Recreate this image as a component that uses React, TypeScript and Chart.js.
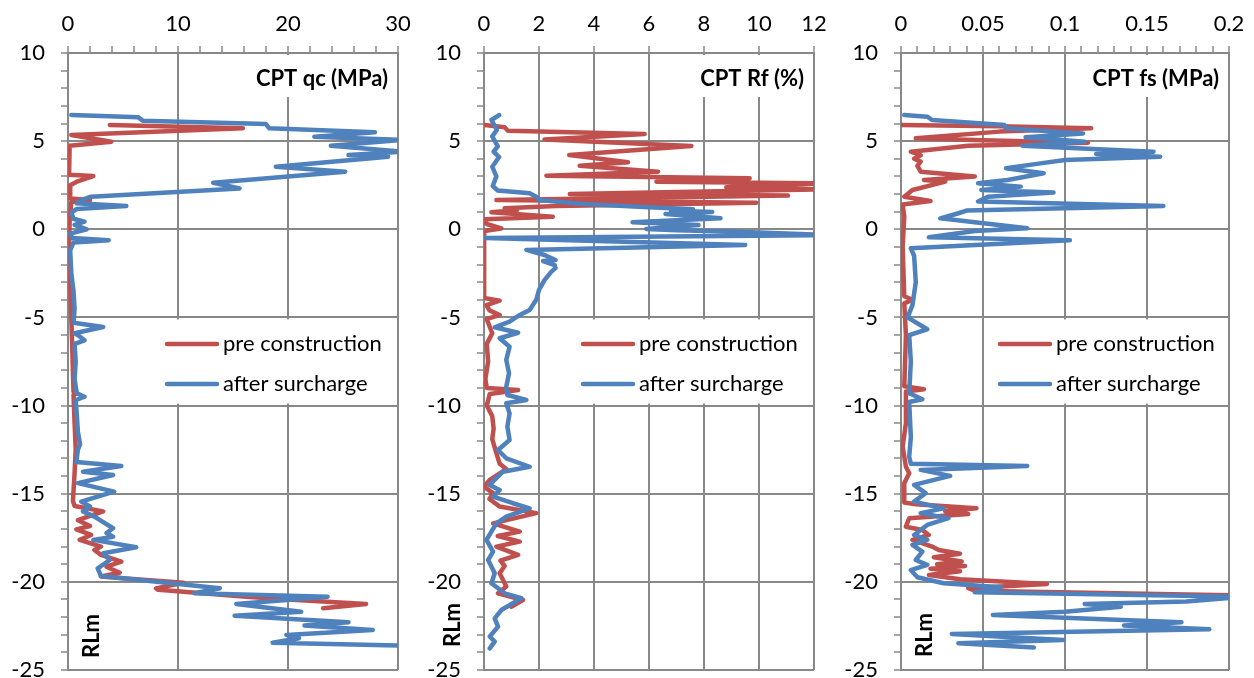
import React, { useEffect, useRef } from "react";
import { Chart, registerables } from "chart.js";

Chart.register(...registerables);

// ---------- data: [value, depth RLm] ----------
const qcPre: number[][] = [
  [3.8, 5.92], [15.9, 5.73], [0.3, 5.35], [3.95, 4.97], [0.15, 4.74], [0.1, 3.5], [0.1, 3.1], [2.3, 3.02],
  [0.8, 2.7], [0.2, 2.5], [0.2, 1.75], [2.0, 1.66], [0.3, 1.55], [0.15, 0.5], [0.1, -1], [0.2, -3], [0.3, -5],
  [0.4, -7], [0.5, -9.2], [0.8, -9.3], [0.5, -9.4], [0.6, -11], [0.7, -12.5], [0.6, -13.8], [0.45, -15.4],
  [0.6, -15.7], [3.2, -16.0], [0.9, -16.5], [2.0, -16.83], [0.76, -17.02], [2.1, -17.34], [1.06, -17.62],
  [3.0, -18.0], [2.4, -18.19], [3.0, -18.47], [4.85, -18.85], [3.5, -19.14], [4.7, -19.48], [3.0, -19.7],
  [5.0, -19.8], [10.5, -20.05], [8.0, -20.37], [8.2, -20.45], [16.2, -20.84], [20.0, -21.0], [27.1, -21.25],
  [23.2, -21.5],
];
const qcAfter: number[][] = [
  [0.3, 6.48], [6.4, 6.35], [6.8, 6.16], [18.0, 5.97], [18.3, 5.73], [27.9, 5.5], [22.4, 5.25], [30.5, 5.07],
  [23.9, 4.74], [30.5, 4.4], [25.5, 4.21], [29.1, 4.12], [18.9, 3.55], [25.2, 3.27], [13.2, 2.64], [15.6, 2.32],
  [2.1, 1.85], [1.2, 1.65], [0.8, 1.47], [5.3, 1.32], [0.8, 1.15], [0.3, 0.95], [0.5, 0.6], [1.5, 0.43],
  [0.6, 0.25], [1.7, 0.0], [0.2, -0.25], [0.4, -0.5], [3.7, -0.62], [0.5, -0.75], [0.2, -1.2], [0.3, -2.5],
  [0.5, -3.5], [0.6, -4.5], [0.5, -5.3], [3.2, -5.54], [0.6, -5.9], [1.0, -6.05], [1.5, -6.3], [0.6, -6.5],
  [0.7, -7.5], [0.6, -8.5], [0.8, -9.3], [1.5, -9.5], [0.7, -9.7], [0.8, -10.5], [0.9, -11.5], [1.1, -12.2],
  [0.9, -12.5], [0.76, -13.2], [4.85, -13.43], [1.36, -13.75], [4.1, -13.94], [0.9, -14.4], [4.2, -14.88],
  [1.2, -15.45], [2.0, -15.73], [1.36, -16.0], [2.4, -16.3], [4.1, -16.96], [3.5, -17.23], [4.1, -17.44],
  [2.3, -17.62], [6.2, -18.04], [3.2, -18.38], [3.8, -18.76], [2.7, -19.23], [3.0, -19.67], [13.8, -20.36],
  [11.5, -20.65], [23.6, -20.84], [15.3, -21.25], [21.2, -21.69], [15.15, -21.92], [25.5, -22.29],
  [21.5, -22.48], [27.7, -22.73], [19.85, -23.01], [21.0, -23.2], [18.6, -23.45], [31.0, -23.62],
];

const rfPre: number[][] = [
  [0.03, 5.92], [0.75, 5.79], [0.87, 5.59], [5.84, 5.4], [2.2, 5.1], [7.54, 4.72], [3.1, 4.21], [5.24, 3.8],
  [3.48, 3.6], [6.33, 3.27], [2.27, 3.04], [9.66, 2.89], [6.27, 2.7], [12.3, 2.61], [8.81, 2.38], [12.3, 2.26],
  [3.12, 2.0], [11.05, 1.91], [0.45, 1.66], [9.9, 1.51], [2.63, 1.32], [0.75, 1.19], [1.2, 1.1], [0.27, 0.96],
  [2.5, 0.71], [0.03, 0.57], [0.1, 0.3], [0.63, 0.05], [0.0, -0.1], [0.0, -1], [0.0, -2], [0.0, -3],
  [0.02, -3.9], [0.57, -4.05], [0.09, -4.3], [0.2, -4.6], [0.57, -4.86], [0.1, -5.1], [0.3, -5.9], [0.1, -6.5],
  [0.15, -7.5], [0.05, -8.5], [0.1, -9.0], [1.24, -9.12], [0.21, -9.34], [0.1, -10], [0.3, -10.6], [0.35, -11.3],
  [0.3, -11.9], [0.45, -12.7], [0.57, -13.3], [0.81, -13.6], [0.21, -14.22], [0.0, -14.6], [0.33, -14.97],
  [0.2, -15.3], [0.57, -15.73], [1.9, -16.1], [0.33, -16.68], [1.3, -17.15], [0.5, -17.4], [1.3, -17.72],
  [0.45, -18.0], [1.24, -18.47], [0.6, -18.8], [0.75, -19.1], [0.57, -19.51], [0.81, -20.27], [0.51, -20.65],
  [1.42, -21.03], [0.99, -21.41],
];
const rfAfter: number[][] = [
  [0.55, 6.48], [0.27, 6.2], [0.47, 5.65], [0.3, 5.27], [0.5, 4.7], [0.35, 4.4], [0.55, 4.1], [0.3, 3.55],
  [0.45, 3.0], [0.32, 2.45], [0.5, 2.2], [1.66, 2.04], [1.9, 1.85], [2.0, 1.66], [3.6, 1.44], [6.0, 1.25],
  [7.6, 1.13], [6.8, 1.05], [8.3, 0.98], [6.6, 0.87], [8.6, 0.62], [5.4, 0.4], [7.8, 0.24], [5.9, 0.02],
  [7.0, -0.05], [9.2, -0.14], [12.5, -0.33], [0.05, -0.5], [9.5, -0.89], [1.54, -1.17], [2.2, -1.46],
  [2.6, -1.74], [2.15, -1.8], [2.57, -2.03], [2.6, -2.2], [2.45, -2.4], [2.2, -2.88], [2.0, -3.44], [1.9, -4.0],
  [1.66, -4.58], [1.3, -4.86], [0.93, -5.24], [0.39, -5.56], [1.24, -5.87], [0.57, -6.18], [0.93, -6.66],
  [0.81, -7.41], [0.91, -8.17], [0.81, -8.93], [0.85, -9.4], [1.54, -9.68], [0.81, -9.87], [0.93, -10.44],
  [0.85, -11.2], [0.93, -11.95], [0.51, -12.52], [0.81, -12.99], [1.66, -13.47], [0.69, -13.75], [0.2, -14.5],
  [0.57, -14.79], [0.33, -15.17], [1.05, -15.54], [1.66, -15.83], [0.81, -16.3], [0.45, -16.68], [0.09, -17.62],
  [0.33, -18.29], [0.15, -18.76], [0.39, -19.51], [0.27, -20.08], [0.75, -20.65], [1.36, -20.93], [0.63, -21.6],
  [0.39, -22.07], [0.51, -22.54], [0.21, -23.1], [0.39, -23.39], [0.21, -23.77],
];

const fsPre: number[][] = [
  [0.0, 5.92], [0.06, 5.85], [0.116, 5.73], [0.06, 5.54], [0.009, 5.16], [0.05, 5.05], [0.114, 4.91],
  [0.041, 4.74], [0.006, 4.4], [0.012, 4.2], [0.008, 4.0], [0.012, 3.84], [0.01, 3.6], [0.012, 3.27],
  [0.045, 2.99], [0.014, 2.8], [0.027, 2.7], [0.007, 2.23], [0.002, 1.85], [0.018, 1.6], [0.001, 1.4],
  [0.002, 0.72], [0.001, -1], [0.002, -3.8], [0.007, -4.0], [0.002, -4.2], [0.003, -6], [0.002, -8.9],
  [0.014, -9.07], [0.003, -9.2], [0.003, -11], [0.001, -12.33], [0.003, -13.47], [0.005, -13.84], [0.002, -14.4],
  [0.002, -15.5], [0.009, -15.6], [0.046, -15.83], [0.027, -16.0], [0.041, -16.15], [0.005, -16.39],
  [0.003, -16.87], [0.013, -17.06], [0.017, -17.34], [0.007, -17.62], [0.019, -18.0], [0.023, -18.19],
  [0.036, -18.4], [0.02, -18.6], [0.037, -18.85], [0.022, -19.0], [0.039, -19.1], [0.018, -19.25],
  [0.036, -19.4], [0.017, -19.61], [0.036, -19.85], [0.089, -20.12], [0.041, -20.36], [0.045, -20.5],
  [0.21, -20.78],
];
const fsAfter: number[][] = [
  [0.002, 6.48], [0.016, 6.39], [0.019, 6.2], [0.063, 5.92], [0.064, 5.73], [0.111, 5.44], [0.076, 5.22],
  [0.112, 4.97], [0.074, 4.74], [0.154, 4.4], [0.119, 4.27], [0.158, 4.12], [0.1, 3.93], [0.085, 3.74],
  [0.064, 3.46], [0.087, 3.18], [0.065, 2.8], [0.047, 2.61], [0.073, 2.42], [0.049, 2.23], [0.093, 2.08],
  [0.053, 1.85], [0.047, 1.57], [0.16, 1.32], [0.04, 1.06], [0.035, 0.91], [0.024, 0.62], [0.045, 0.4],
  [0.077, 0.06], [0.045, -0.1], [0.017, -0.45], [0.103, -0.62], [0.006, -1.08], [0.008, -1.5], [0.009, -3],
  [0.007, -4.3], [0.004, -5.0], [0.016, -5.67], [0.005, -6.0], [0.006, -7.5], [0.005, -9.3], [0.013, -9.64],
  [0.005, -9.8], [0.006, -11.8], [0.005, -12.9], [0.006, -13.3], [0.077, -13.43], [0.012, -13.65],
  [0.03, -13.99], [0.008, -14.5], [0.015, -14.97], [0.008, -15.45], [0.026, -15.83], [0.012, -16.1],
  [0.029, -16.39], [0.016, -16.77], [0.008, -17.34], [0.016, -17.62], [0.007, -17.9], [0.013, -18.29],
  [0.009, -18.76], [0.016, -19.04], [0.006, -19.33], [0.01, -19.74], [0.026, -20.08], [0.061, -20.31],
  [0.045, -20.59], [0.21, -20.84], [0.174, -21.12], [0.112, -21.25], [0.134, -21.41], [0.1, -21.69],
  [0.056, -21.88], [0.171, -22.29], [0.136, -22.48], [0.188, -22.69], [0.031, -22.96], [0.099, -23.3],
  [0.035, -23.48], [0.081, -23.73],
];

const seriesNames = ["pre construction", "after surcharge"];
const panelTitles = ["CPT qc (MPa)", "CPT Rf (%)", "CPT fs (MPa)"];
const xMaxes = [30, 12, 0.2];
const xMinorSteps = [2, 2, 0.01];
const xMajorSteps = [10, 2, 0.05];
const depthMin = -25;
const depthMax = 10;
const axisTitle = "RLm";

// ---------- styling ----------
const FONT = "Lato, 'Open Sans', sans-serif";
const TICK_SIZE = 22;
const TITLE_SIZE = 22;
const RED = "#C0504D";
const BLUE = "#4F81BD";
const GRID = "#888888";
const LINE_W = 4.5;

type Panel = {
  title: string;
  xMax: number;
  minor: number;
  major: number;
  pre: number[][];
  after: number[][];
  canvasLeft: number;
  rightPad: number;
  rlmDx: number;
  rlmY: number;
};

const panels: Panel[] = [
  { title: panelTitles[0], xMax: xMaxes[0], minor: xMinorSteps[0], major: xMajorSteps[0], pre: qcPre, after: qcAfter, canvasLeft: 0, rightPad: 22, rlmDx: 24, rlmY: 636 },
  { title: panelTitles[1], xMax: xMaxes[1], minor: xMinorSteps[1], major: xMajorSteps[1], pre: rfPre, after: rfAfter, canvasLeft: 416, rightPad: 22, rlmDx: -31, rlmY: 625 },
  { title: panelTitles[2], xMax: xMaxes[2], minor: xMinorSteps[2], major: xMajorSteps[2], pre: fsPre, after: fsAfter, canvasLeft: 832.5, rightPad: 24, rlmDx: 24, rlmY: 635 },
];

const CANVAS_W = 420;
const CANVAS_H = 678;

const isMajor = (v: number, step: number) => Math.abs(v / step - Math.round(v / step)) < 1e-6;

const overlayPlugin = {
  id: "overlay",
  beforeDatasetsDraw(chart: any, _args: any, opts: any) {
    const p: Panel = opts.panel;
    const { ctx, chartArea } = chart;
    const yS = chart.scales.y;
    ctx.save();
    // title box
    ctx.font = `bold ${TITLE_SIZE}px ${FONT}`;
    const tw = ctx.measureText(p.title).width;
    const tx = chartArea.right - 10;
    ctx.fillStyle = "#ffffff";
    ctx.fillRect(tx - tw - 8, chartArea.top + 2, chartArea.right - 2 - (tx - tw - 8), 97 - chartArea.top - 2);
    ctx.fillStyle = "#000000";
    ctx.textAlign = "right";
    ctx.textBaseline = "middle";
    ctx.fillText(p.title, tx, 79);

    // legend box
    const lTop = yS.getPixelForValue(-5) + 2;
    const lBot = yS.getPixelForValue(-10) - 2;
    const lLeft = chartArea.left + 89;
    ctx.fillStyle = "#ffffff";
    ctx.fillRect(lLeft, lTop, chartArea.right - 2 - lLeft, lBot - lTop);
    ctx.font = `${TICK_SIZE}px ${FONT}`;
    ctx.textAlign = "left";
    const rows = [344, 384];
    chart.data.datasets.forEach((ds: any, i: number) => {
      const yy = rows[i];
      ctx.strokeStyle = ds.borderColor;
      ctx.lineWidth = LINE_W;
      ctx.lineCap = "round";
      ctx.beginPath();
      ctx.moveTo(chartArea.left + 99, yy);
      ctx.lineTo(chartArea.left + 149, yy);
      ctx.stroke();
      ctx.fillStyle = "#000000";
      ctx.fillText(ds.label, chartArea.left + 155, yy);
    });
    ctx.restore();
  },
  afterDraw(chart: any, _args: any, opts: any) {
    const p: Panel = opts.panel;
    const { ctx, chartArea } = chart;
    ctx.save();
    ctx.translate(chartArea.left + p.rlmDx, p.rlmY);
    ctx.rotate(-Math.PI / 2);
    ctx.font = `bold ${TITLE_SIZE}px ${FONT}`;
    ctx.fillStyle = "#000000";
    ctx.textAlign = "center";
    ctx.textBaseline = "middle";
    ctx.fillText(axisTitle, 0, 0);
    ctx.restore();
  },
};

function toPoints(arr: number[][]) {
  return arr.map((d) => ({ x: d[0], y: d[1] }));
}

function fmt(v: number) {
  return String(Math.round(v * 1000) / 1000);
}

function CptPanel({ p }: { p: Panel }) {
  const ref = useRef<HTMLCanvasElement>(null);
  useEffect(() => {
    if (!ref.current) return;
    const chart = new Chart(ref.current, {
      type: "scatter",
      data: {
        datasets: [
          {
            label: seriesNames[0],
            data: toPoints(p.pre),
            borderColor: RED,
            backgroundColor: RED,
            showLine: true,
            borderWidth: LINE_W,
            pointRadius: 0,
            borderJoinStyle: "round",
            borderCapStyle: "round",
            tension: 0,
            order: 2,
          },
          {
            label: seriesNames[1],
            data: toPoints(p.after),
            borderColor: BLUE,
            backgroundColor: BLUE,
            showLine: true,
            borderWidth: LINE_W,
            pointRadius: 0,
            borderJoinStyle: "round",
            borderCapStyle: "round",
            tension: 0,
            order: 1,
          },
        ],
      },
      options: {
        animation: false,
        responsive: false,
        maintainAspectRatio: false,
        layout: { padding: { left: 0, right: p.rightPad, top: 0, bottom: 8 } },
        plugins: {
          legend: { display: false },
          tooltip: { enabled: false },
          overlay: { panel: p },
        } as any,
        scales: {
          x: {
            type: "linear",
            position: "top",
            min: 0,
            max: p.xMax,
            ticks: {
              stepSize: p.minor,
              autoSkip: false,
              maxRotation: 0,
              padding: 9,
              color: "#000000",
              font: { family: FONT, size: TICK_SIZE },
              callback: (v: any) => (isMajor(Number(v), p.major) ? fmt(Number(v)) : ""),
            },
            grid: {
              color: (c: any) => (isMajor(c.tick.value, p.major) ? GRID : "rgba(0,0,0,0)"),
              tickColor: GRID,
              lineWidth: 2,
              tickLength: 7,
              tickWidth: 1.5,
            },
            border: { color: GRID, width: 2 },
            afterFit: (s: any) => {
              s.height = 53;
              s.paddingLeft = 0;
              s.paddingRight = 0;
            },
          },
          y: {
            type: "linear",
            min: depthMin,
            max: depthMax,
            ticks: {
              stepSize: 1,
              autoSkip: false,
              padding: 16,
              color: "#000000",
              font: { family: FONT, size: TICK_SIZE },
              callback: (v: any) => (isMajor(Number(v), 5) ? String(Math.round(Number(v))) : ""),
            },
            grid: {
              color: (c: any) => (isMajor(c.tick.value, 5) ? GRID : "rgba(0,0,0,0)"),
              tickColor: GRID,
              lineWidth: 2,
              tickLength: 7,
              tickWidth: 1.5,
            },
            border: { color: GRID, width: 2 },
            afterFit: (s: any) => {
              s.width = 68;
              s.paddingTop = 0;
              s.paddingBottom = 0;
            },
          },
        },
      } as any,
      plugins: [overlayPlugin],
    });
    return () => chart.destroy();
  }, [p]);
  return (
    <canvas
      ref={ref}
      width={CANVAS_W}
      height={CANVAS_H}
      style={{ position: "absolute", left: p.canvasLeft, top: 0, width: CANVAS_W, height: CANVAS_H }}
    />
  );
}

export default function App() {
  useEffect(() => {
    document.body.style.margin = "0";
    document.body.style.background = "#ffffff";
  }, []);
  return (
    <div style={{ position: "relative", width: 1254, height: 678, background: "#ffffff", overflow: "hidden" }}>
      {panels.map((p, i) => (
        <CptPanel key={i} p={p} />
      ))}
    </div>
  );
}
